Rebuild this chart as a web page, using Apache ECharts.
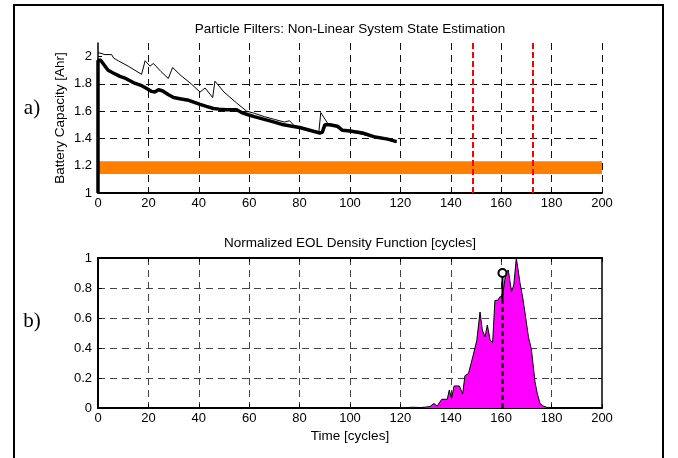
<!DOCTYPE html>
<html><head><meta charset="utf-8">
<script src="https://cdn.jsdelivr.net/npm/echarts@6/dist/echarts.min.js"></script>
<style>html,body{margin:0;padding:0;background:#fff}#c{width:678px;height:458px}</style>
</head><body><div id="c"></div>
<script>
// ---- Top panel: battery capacity (cycles vs Ahr) ----
const estX = [0, 0, 1, 2, 4, 6, 8.7, 11, 14, 17, 19, 21.3, 22.5, 24, 25.5, 28, 30, 33, 36, 40.5, 43, 45.8, 48, 51, 55, 57, 59.6, 62, 66, 70, 73.6, 77, 80, 84, 88, 89, 90, 92, 95, 97, 100, 105, 110, 115, 118.5];
const estY = [1, 1.97, 1.975, 1.95, 1.90, 1.88, 1.855, 1.84, 1.81, 1.79, 1.77, 1.745, 1.74, 1.757, 1.75, 1.72, 1.70, 1.69, 1.68, 1.65, 1.635, 1.62, 1.615, 1.61, 1.61, 1.59, 1.574, 1.56, 1.54, 1.52, 1.50, 1.49, 1.48, 1.46, 1.44, 1.445, 1.50, 1.50, 1.49, 1.46, 1.455, 1.44, 1.41, 1.395, 1.377];
const measX = [0, 2.8, 5.4, 6.2, 8, 12, 17.3, 18.7, 20.6, 22, 25, 27.9, 29.6, 33, 37, 40.5, 42.5, 45.5, 46.4, 50, 55, 59, 62, 66, 70, 74, 76, 76.8, 78.5, 82, 86, 87.6, 88.4, 91.5, 94, 97, 100, 105, 110, 115, 118.5];
const measY = [2.03, 2.015, 2.015, 1.99, 1.97, 1.93, 1.87, 1.97, 1.93, 1.95, 1.89, 1.84, 1.92, 1.86, 1.80, 1.74, 1.77, 1.70, 1.82, 1.74, 1.66, 1.60, 1.585, 1.56, 1.54, 1.52, 1.53, 1.515, 1.48, 1.47, 1.45, 1.44, 1.59, 1.50, 1.49, 1.455, 1.45, 1.43, 1.41, 1.39, 1.37];
const thresholdBand = [1.14, 1.232];      // EOL threshold band (Ahr)
const bandRange = [0, 200];               // cycles
const redLines = [148.7, 172.5];          // prediction bounds (cycles)

// ---- Bottom panel: normalized EOL density ----
const pdfX = [118, 122, 125, 128, 130, 131.7, 133.3, 134.6, 136.4, 138.6, 139.4, 140.3, 141.3, 143.4, 144.7, 145.6, 147, 148.7, 150.3, 151.6, 152.5, 153.6, 154.5, 155.6, 156.6, 157.5, 158.8, 159.5, 160.5, 161.8, 162.8, 164.1, 165, 166, 167.5, 168.5, 169.4, 170.8, 172, 173.4, 174.3, 175.4, 176.7, 178, 180];
const pdfY = [0, 0.003, 0.005, 0.003, 0.006, 0.01, 0.03, 0.013, 0.058, 0.058, 0.12, 0.064, 0.147, 0.147, 0.093, 0.215, 0.23, 0.34, 0.45, 0.64, 0.52, 0.475, 0.553, 0.453, 0.436, 0.716, 0.72, 0.742, 0.74, 0.9, 0.92, 0.776, 0.82, 1.0, 0.83, 0.74, 0.64, 0.475, 0.39, 0.176, 0.098, 0.03, 0.013, 0.005, 0];
const eolX = 160.5, eolLow = 0.72, eolHigh = 0.9;

const topYTicks = [1, 1.2, 1.4, 1.6, 1.8, 2];

const F = '"Liberation Sans", Arial, Helvetica, sans-serif';
const zip = (xs, ys) => xs.map((x, i) => [x, ys[i]]);
const chart = echarts.init(document.getElementById('c'), null, {renderer: 'canvas'});

const lbl = {color: '#000', fontFamily: F, fontSize: 13};
const nameStyle = {color: '#000', fontFamily: F, fontSize: 13.5};
const dashTop = {color: '#111', type: [7, 5], width: 1};
const dashBot = {color: '#444', type: [7, 5], width: 1};
const option = {
  animation: false,
  backgroundColor: '#fff',
  grid: [
    {left: 98, top: 43, width: 504, height: 150},
    {left: 98, top: 258, width: 504, height: 150}
  ],
  xAxis: [
    {gridIndex: 0, type: 'value', min: 0, max: 200, interval: 20,
     axisLine: {show: true, onZero: false, lineStyle: {color: '#000', width: 2}},
     axisTick: {show: true, inside: true, length: 4, lineStyle: {color: '#000'}},
     axisLabel: Object.assign({margin: 4}, lbl),
     splitLine: {show: true, showMinLine: false, lineStyle: dashTop}},
    {gridIndex: 1, type: 'value', min: 0, max: 200, interval: 20,
     axisLine: {show: true, onZero: false, lineStyle: {color: '#000', width: 2}},
     axisTick: {show: true, inside: true, length: 4, lineStyle: {color: '#000'}},
     axisLabel: Object.assign({margin: 4}, lbl),
     name: 'Time [cycles]', nameLocation: 'middle', nameGap: 21,
     nameTextStyle: nameStyle,
     splitLine: {show: true, showMinLine: false, showMaxLine: false, lineStyle: dashBot}},
    {gridIndex: 1, type: 'value', min: 0, max: 200, interval: 20, position: 'top',
     axisLine: {show: true, onZero: false, lineStyle: {color: '#000', width: 2}},
     axisTick: {show: true, inside: true, length: 4, lineStyle: {color: '#000'}},
     axisLabel: {show: false}, splitLine: {show: false}}
  ],
  yAxis: [
    {gridIndex: 0, type: 'value', min: 1, max: 2.1, interval: 0.2,
     axisLine: {show: true, onZero: false, lineStyle: {color: '#000', width: 1.5}},
     axisTick: {show: true, inside: true, length: 4, customValues: topYTicks, lineStyle: {color: '#000'}},
     axisLabel: Object.assign({margin: 6, showMaxLabel: false}, lbl),
     name: 'Battery Capacity [Ahr]', nameLocation: 'middle', nameGap: 31, nameMoveOverlap: false,
     nameTextStyle: nameStyle,
     splitLine: {show: true, showMinLine: false, showMaxLine: false, lineStyle: dashTop}},
    {gridIndex: 1, type: 'value', min: 0, max: 1, interval: 0.2,
     axisLine: {show: true, onZero: false, lineStyle: {color: '#000', width: 2}},
     axisTick: {show: true, inside: true, length: 4, lineStyle: {color: '#000'}},
     axisLabel: Object.assign({margin: 6}, lbl),
     splitLine: {show: true, showMinLine: false, showMaxLine: false, lineStyle: dashBot}},
    {gridIndex: 1, type: 'value', min: 0, max: 1, interval: 0.2, position: 'right',
     axisLine: {show: true, onZero: false, lineStyle: {color: '#000', width: 1.5}},
     axisTick: {show: true, inside: true, length: 4, lineStyle: {color: '#000'}},
     axisLabel: {show: false}, splitLine: {show: false}}
  ],
  series: [
    {type: 'line', xAxisIndex: 0, yAxisIndex: 0, data: zip(measX, measY), showSymbol: false, symbol: 'none',
     lineStyle: {color: '#000', width: 1}, z: 3,
     markLine: {silent: true, symbol: ['none', 'none'], label: {show: false},
       lineStyle: {color: '#ff0000', width: 2, type: [6, 3]},
       data: redLines.map(v => ({xAxis: v}))}},
    {type: 'line', xAxisIndex: 0, yAxisIndex: 0, data: zip(estX, estY), showSymbol: false, symbol: 'none',
     lineStyle: {color: '#000', width: 3.5}, z: 4,
     markArea: {silent: true, itemStyle: {color: '#ff7f00', opacity: 1},
       data: [[{xAxis: bandRange[0], yAxis: thresholdBand[0]}, {xAxis: bandRange[1], yAxis: thresholdBand[1]}]]}},
    {type: 'line', xAxisIndex: 1, yAxisIndex: 1, data: zip(pdfX, pdfY), showSymbol: false, symbol: 'none',
     lineStyle: {color: '#000', width: 1}, areaStyle: {color: '#ff00ff', opacity: 1}, z: 3},
    {type: 'line', xAxisIndex: 1, yAxisIndex: 1, data: [[eolX, 0], [eolX, eolLow]], symbol: 'none',
     lineStyle: {color: '#000', width: 2.5, type: [5, 3]}, z: 5},
    {type: 'line', xAxisIndex: 1, yAxisIndex: 1, symbol: 'circle', symbolSize: 8,
     data: [{value: [eolX, eolLow], symbol: 'none'}, {value: [eolX, eolHigh]}],
     itemStyle: {color: '#fff', borderColor: '#000', borderWidth: 2},
     lineStyle: {color: '#000', width: 2}, z: 6}
  ],
  graphic: [
    {type: 'rect', shape: {x: 14, y: 5, width: 649, height: 470}, style: {fill: 'none', stroke: '#000', lineWidth: 2}, silent: true},
    {type: 'text', x: 350, y: 29, style: {text: 'Particle Filters: Non-Linear System State Estimation', fill: '#000', font: '13.5px ' + F, textAlign: 'center', textVerticalAlign: 'middle'}},
    {type: 'text', x: 350, y: 243, style: {text: 'Normalized EOL Density Function [cycles]', fill: '#000', font: '13.5px ' + F, textAlign: 'center', textVerticalAlign: 'middle'}},
    {type: 'text', x: 32, y: 108, style: {text: 'a)', fill: '#000', font: '21px "Liberation Serif", "Times New Roman", serif', textAlign: 'center', textVerticalAlign: 'middle'}},
    {type: 'text', x: 32, y: 321, style: {text: 'b)', fill: '#000', font: '21px "Liberation Serif", "Times New Roman", serif', textAlign: 'center', textVerticalAlign: 'middle'}}
  ]
};
chart.setOption(option);
</script>
</body></html>
